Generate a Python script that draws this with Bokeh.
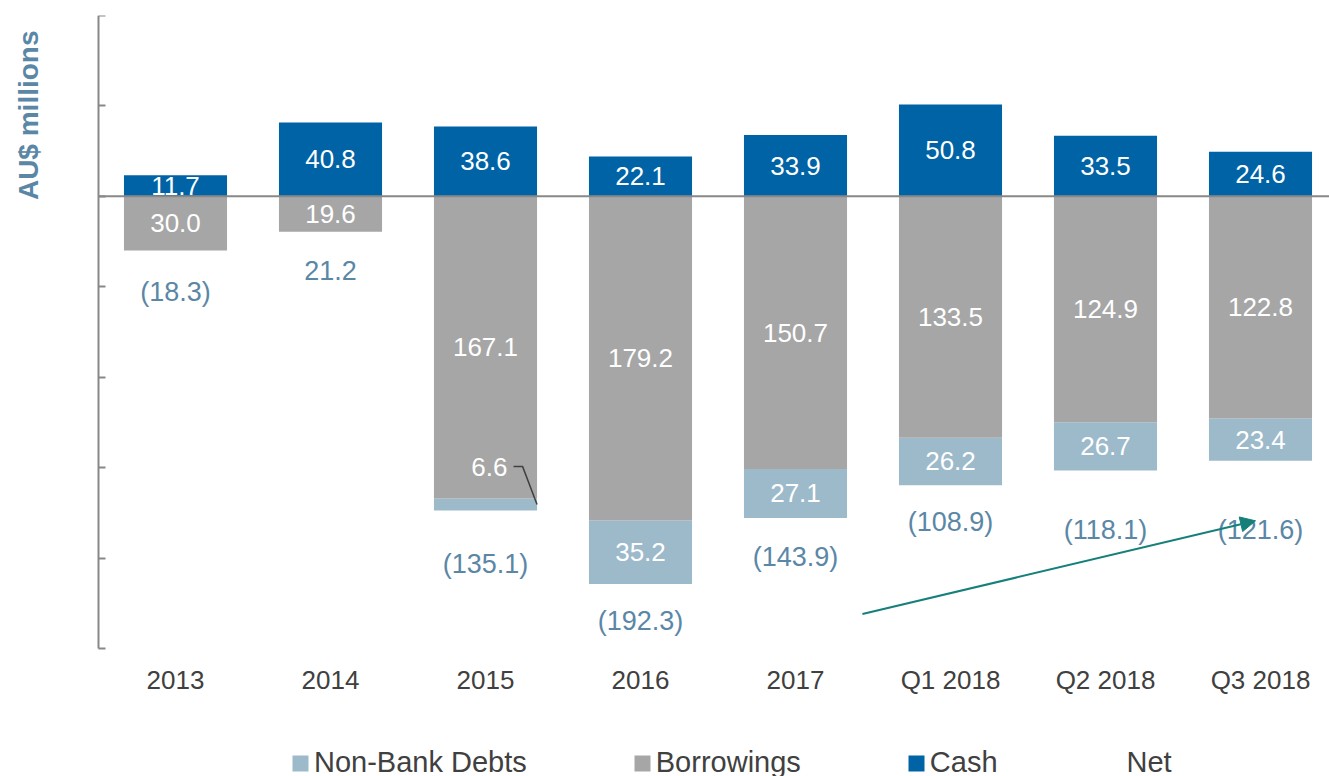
import math
from bokeh.plotting import figure
from bokeh.models import (ColumnDataSource, LabelSet, Legend, LegendItem,
                          FixedTicker, Arrow, NormalHead, Label)
from bokeh.embed import file_html
from bokeh.resources import INLINE
from bokeh.core.properties import value

# ---------------- data ----------------
categories = ["2013", "2014", "2015", "2016", "2017", "Q1 2018", "Q2 2018", "Q3 2018"]
cash = [11.7, 40.8, 38.6, 22.1, 33.9, 50.8, 33.5, 24.6]
borrowings = [30.0, 19.6, 167.1, 179.2, 150.7, 133.5, 124.9, 122.8]
non_bank_debts = [0.0, 0.0, 6.6, 35.2, 27.1, 26.2, 26.7, 23.4]
net = [-18.3, 21.2, -135.1, -192.3, -143.9, -108.9, -118.1, -121.6]
y_ticks = [100, 50, 0, -50, -100, -150, -200, -250]
y_axis_bounds = (-250, 100)

# ---------------- styles ----------------
C_CASH = "#0063a6"
C_BORR = "#a6a6a6"
C_NBD = "#9dbacb"
C_NET = "#5b87a6"
C_AXIS = "#888888"
C_TEXT = "#404040"
C_ARROW = "#15807a"
FONT = "Liberation Sans"
BAR_W = 0.665
net_label_offset_px = [41, 39, 53, 37, 39, 37, 59, 69]

W, H = 1329, 776
FRAME_TOP = 15
AXIS_PX = 98            # screen x of the value axis
CAT_STEP_PX = 155       # screen width of one category
FIRST_CAT_PX = 175      # screen x of the first category centre
PX_PER_UNIT = 633 / (y_axis_bounds[1] - y_axis_bounds[0])
y_start = y_axis_bounds[1] - (H - FRAME_TOP) / PX_PER_UNIT
x_start = -FIRST_CAT_PX / CAT_STEP_PX
x_end = (W - FIRST_CAT_PX) / CAT_STEP_PX
x_axis_pos = (AXIS_PX - FIRST_CAT_PX) / CAT_STEP_PX

x = list(range(len(categories)))
borr_top = [0.0] * len(x)
borr_bot = [-b for b in borrowings]
nbd_top = borr_bot
nbd_bot = [-(b + n) for b, n in zip(borrowings, non_bank_debts)]

src = ColumnDataSource(dict(
    x=x, cash=cash, borr_top=borr_top, borr_bot=borr_bot,
    nbd_top=nbd_top, nbd_bot=nbd_bot, net=net,
    cash_mid=[c / 2 for c in cash],
    borr_mid=[-b / 2 for b in borrowings],
    cash_txt=[f"{c:.1f}" for c in cash],
    borr_txt=[f"{b:.1f}" for b in borrowings],
    net_txt=[f"({-v:.1f})" if v < 0 else f"{v:.1f}" for v in net],
    net_off=[-o for o in net_label_offset_px],
))

nb_idx = [i for i in x if non_bank_debts[i] >= 10]
nb_src = ColumnDataSource(dict(
    x=[x[i] for i in nb_idx],
    mid=[(nbd_top[i] + nbd_bot[i]) / 2 for i in nb_idx],
    txt=[f"{non_bank_debts[i]:.1f}" for i in nb_idx],
))

p = figure(width=W, height=H, x_range=(x_start, x_end),
           y_range=(y_start, y_axis_bounds[1]),
           output_backend="svg", toolbar_location=None,
           min_border_left=0, min_border_right=0, min_border_top=FRAME_TOP,
           min_border_bottom=0)
p.outline_line_color = None
p.xgrid.grid_line_color = None
p.ygrid.grid_line_color = None
p.background_fill_color = "white"

r_nbd = p.vbar(x="x", top="nbd_top", bottom="nbd_bot", width=BAR_W, source=src,
               fill_color=C_NBD, line_color=None)
r_borr = p.vbar(x="x", top="borr_top", bottom="borr_bot", width=BAR_W, source=src,
                fill_color=C_BORR, line_color=None)
r_cash = p.vbar(x="x", top="cash", bottom=0, width=BAR_W, source=src,
                fill_color=C_CASH, line_color=None)
r_net = p.scatter(x="x", y="net", source=src, size=1, alpha=0)

# zero line from the value axis to the right edge
p.segment(x0=[x_axis_pos], y0=[0], x1=[x_end], y1=[0],
          line_color=C_AXIS, line_width=2)

# value labels
p.add_layout(LabelSet(x="x", y="cash_mid", text="cash_txt", source=src,
                      text_align="center", text_baseline="middle",
                      text_color="white", text_font_size="26px",
                      text_font=value(FONT)))
p.add_layout(LabelSet(x="x", y="borr_mid", text="borr_txt", source=src,
                      text_align="center", text_baseline="middle",
                      text_color="white", text_font_size="26px",
                      text_font=value(FONT)))
p.add_layout(LabelSet(x="x", y="mid", text="txt", source=nb_src,
                      text_align="center", text_baseline="middle",
                      text_color="white", text_font_size="26px",
                      text_font=value(FONT)))
p.add_layout(LabelSet(x="x", y="nbd_bot", text="net_txt", source=src,
                      y_offset="net_off",
                      text_align="center", text_baseline="middle",
                      text_color=C_NET, text_font_size="27px",
                      text_font=value(FONT)))

# callout for small non-bank segment
for i in x:
    if 0 < non_bank_debts[i] < 10:
        p.add_layout(Label(x=x[i], y=borr_bot[i], x_offset=22, y_offset=32,
                           text=f"{non_bank_debts[i]:.1f}", text_align="right",
                           text_baseline="middle", text_color="white",
                           text_font_size="26px", text_font=FONT))
        ly = borr_bot[i] + 17.8
        p.line([x[i] + 0.181, x[i] + 0.239, x[i] + BAR_W / 2],
               [ly, ly, (nbd_top[i] + nbd_bot[i]) / 2],
               line_color=C_TEXT, line_width=1.5)

# trend arrow
p.add_layout(Arrow(end=NormalHead(size=15, fill_color=C_ARROW, line_color=C_ARROW),
                   x_start=4.432, y_start=-230.9, x_end=6.968, y_end=-179.4,
                   line_color=C_ARROW, line_width=2))

# y axis: line + inward ticks, placed at the axis position
yax = p.yaxis[0]
yax.fixed_location = x_axis_pos
yax.bounds = y_axis_bounds
yax.ticker = FixedTicker(ticks=[], minor_ticks=y_ticks)
yax.axis_line_color = C_AXIS
yax.axis_line_width = 2
yax.major_tick_line_color = None
yax.major_tick_in = 0
yax.major_tick_out = 0
yax.minor_tick_line_color = C_AXIS
yax.minor_tick_line_width = 2
yax.minor_tick_in = 7
yax.minor_tick_out = 0
yax.major_label_standoff = 0

# y axis title, top-aligned, left of the axis
p.add_layout(Label(x=x_axis_pos, y=y_axis_bounds[1], x_offset=-70, y_offset=-15,
                   angle=math.pi / 2, text="AU$ millions", text_align="right",
                   text_baseline="middle", text_font=FONT, text_font_size="28px",
                   text_font_style="bold", text_color=C_NET))

# x axis drawn at the bottom of the value scale
xax = p.xaxis[0]
xax.fixed_location = y_axis_bounds[0]
xax.ticker = FixedTicker(ticks=x)
xax.major_label_overrides = {i: c for i, c in zip(x, categories)}
xax.axis_line_color = None
xax.major_tick_line_color = None
xax.major_tick_in = 0
xax.major_tick_out = 0
xax.minor_tick_line_color = None
xax.major_label_text_font = FONT
xax.major_label_text_font_size = "26px"
xax.major_label_text_color = C_TEXT
xax.major_label_standoff = 16

legend = Legend(items=[
    LegendItem(label="Non-Bank Debts", renderers=[r_nbd]),
    LegendItem(label="Borrowings", renderers=[r_borr]),
    LegendItem(label="Cash", renderers=[r_cash]),
    LegendItem(label="Net", renderers=[r_net]),
], orientation="horizontal", location=(290, -3), padding=0, margin=0,
    spacing=105, glyph_width=20, glyph_height=20, label_standoff=4,
    label_text_font=FONT, label_text_font_size="29px", label_text_color=C_TEXT,
    border_line_color=None, background_fill_alpha=0)
p.add_layout(legend, "center")

open("out.html", "w").write(file_html(p, INLINE))
